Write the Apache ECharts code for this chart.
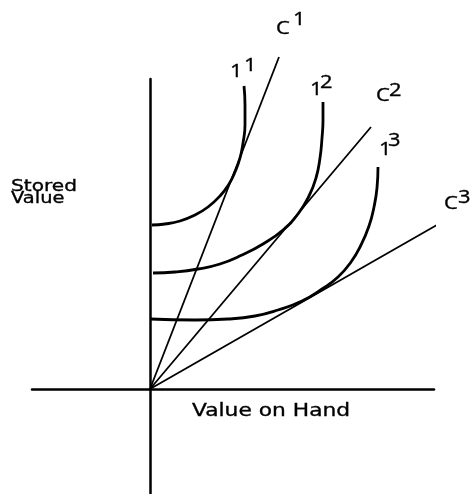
<!DOCTYPE html>
<html>
<head>
<meta charset="utf-8">
<script src="https://cdn.jsdelivr.net/npm/echarts@6/dist/echarts.min.js"></script>
<style>html,body{margin:0;padding:0;background:#fff;}#c{width:471px;height:494px;}</style>
</head>
<body>
<div id="c"></div>
<script>
// Data (value on hand = x, stored value = y), origin at the axes crossing
const rayC1 = [[0, 0], [129, 332]];
const rayC2 = [[0, 0], [221, 262]];
const rayC3 = [[0, 0], [287, 164]];
const curveI1 = [[2,164],[15,165],[30,168],[45,174],[58,182],[70,193],[79,205],[85,217],[90,231],[93,246],[95,264],[95,284],[94,303]];
const curveI2 = [[3,116],[25,117],[48,120],[70,125],[92,134],[113,145],[133,159],[148,175],[159,193],[166,211],[170,231],[172,251],[173,269],[173,287]];
const curveI3 = [[0,70],[45,69],[78,70],[105,73],[128,79],[152,88],[172,100],[188,112],[201,127],[211,144],[219,163],[224,182],[227,201],[228,222]];
const xTitle = 'Value on Hand';
const yTitle = ['Stored', 'Value'];
const labels = [
  {t:'C', x:276, y:19}, {t:'1', x:293, y:10},
  {t:'1', x:230, y:62}, {t:'1', x:244, y:56},
  {t:'1', x:310, y:80}, {t:'2', x:320, y:73},
  {t:'C', x:376, y:86}, {t:'2', x:389, y:81},
  {t:'1', x:379, y:140}, {t:'3', x:388, y:131},
  {t:'C', x:444, y:194}, {t:'3', x:458, y:188}
];

const chart = echarts.init(document.getElementById('c'));
const rayStyle = {color:'#000', width:1.8};
const curveStyle = {color:'#000', width:2.8};
function ray(d){return {type:'line', data:d, symbol:'none', clip:false, lineStyle:rayStyle, silent:true};}
function curve(d){return {type:'line', data:d, symbol:'none', smooth:0.5, clip:false, lineStyle:curveStyle, silent:true};}

const textStroke = {stroke:'#000', lineWidth:0.35};
const graphics = labels.map(l => ({
  type:'text', x:l.x, y:l.y, scaleX:1.15,
  style:Object.assign({text:l.t, font:'19px "Open Sans"', fill:'#000', align:'left', verticalAlign:'top'}, textStroke)
}));
graphics.push({type:'text', x:192, y:402, scaleX:1.21,
  style:Object.assign({text:xTitle, font:'18px "DejaVu Sans"', fill:'#000', align:'left', verticalAlign:'top'}, textStroke)});
graphics.push({type:'text', x:11, y:178, scaleX:1.22,
  style:Object.assign({text:yTitle[0], font:'16.5px "DejaVu Sans"', fill:'#000', align:'left', verticalAlign:'top'}, textStroke)});
graphics.push({type:'text', x:11, y:190, scaleX:1.18,
  style:Object.assign({text:yTitle[1], font:'16.5px "DejaVu Sans"', fill:'#000', align:'left', verticalAlign:'top'}, textStroke)});

chart.setOption({
  animation:false,
  backgroundColor:'#fff',
  grid:{left:32, top:79, width:402, height:415},
  xAxis:{type:'value', min:-118, max:284, axisLine:{show:true, onZero:true, lineStyle:{color:'#000', width:2.5}},
    axisTick:{show:false}, axisLabel:{show:false}, splitLine:{show:false}},
  yAxis:{type:'value', min:-105, max:310, axisLine:{show:true, onZero:true, lineStyle:{color:'#000', width:2.5}},
    axisTick:{show:false}, axisLabel:{show:false}, splitLine:{show:false}},
  series:[ray(rayC1), ray(rayC2), ray(rayC3), curve(curveI1), curve(curveI2), curve(curveI3)],
  graphic:graphics
});
</script>
</body>
</html>
